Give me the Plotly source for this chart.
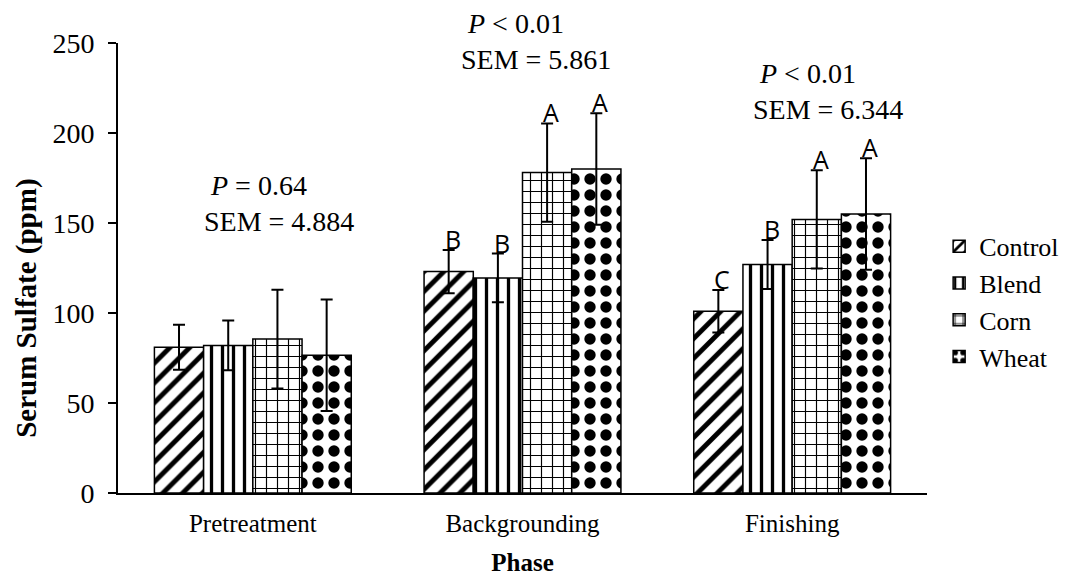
import plotly.graph_objects as go

phases = ["Pretreatment", "Backgrounding", "Finishing"]
series = ["Control", "Blend", "Corn", "Wheat"]
control = [81, 123, 101]
blend = [82, 119.5, 127]
corn = [85.5, 178, 152]
wheat = [76.5, 180, 155]
control_err = [12.5, 12, 11.8]
blend_err = [13.8, 13.5, 13.6]
corn_err = [27.4, 27.3, 27.3]
wheat_err = [31, 31, 31]
control_letters = ["", "B", "C"]
blend_letters = ["", "B", "B"]
corn_letters = ["", "A", "A"]
wheat_letters = ["", "A", "A"]
stats_text = [
    "\u00a0<i>P</i> = 0.64<br>SEM = 4.884",
    "\u00a0<i>P</i> < 0.01<br>SEM = 5.861",
    "\u00a0<i>P</i> < 0.01<br>SEM = 6.344",
]

values = [control, blend, corn, wheat]
errors = [control_err, blend_err, corn_err, wheat_err]
letters = [control_letters, blend_letters, corn_letters, wheat_letters]
patterns = [
    dict(shape="/", size=14, solidity=0.35, fgcolor="black", bgcolor="white", fgopacity=1),
    dict(shape="|", size=11, solidity=0.3, fgcolor="black", bgcolor="white", fgopacity=1),
    dict(shape="+", size=11, solidity=0.2, fgcolor="black", bgcolor="white", fgopacity=1),
    dict(shape=".", size=16, solidity=0.4, fgcolor="black", bgcolor="white", fgopacity=1),
]

serif = "Liberation Serif, Times New Roman, serif"
bargap = 0.27
xpos = list(range(len(phases)))

fig = go.Figure()
for s, v, e, p in zip(series, values, errors, patterns):
    fig.add_trace(go.Bar(
        name=s, x=xpos, y=v,
        marker=dict(color="white", pattern=p, line=dict(color="black", width=1.5)),
        error_y=dict(type="data", array=e, visible=True, color="black", thickness=2, width=6),
    ))

ann = []
bw = (1 - bargap) / len(series)
for j, (v, e, L) in enumerate(zip(values, errors, letters)):
    for i in xpos:
        if L[i]:
            ann.append(dict(
                x=i + (j - 1.5) * bw, y=v[i] + e[i], xref="x", yref="y",
                text=L[i], showarrow=False, yanchor="bottom", xanchor="center",
                font=dict(family="Open Sans, DejaVu Sans, sans-serif", size=25, color="black"),
                borderpad=0, yshift=-7, xshift=4,
            ))

stat_pos = [(0.105, 0.72), (0.423, 1.08), (0.784, 0.97)]
for t, (px, py) in zip(stats_text, stat_pos):
    ann.append(dict(
        x=px, y=py, xref="paper", yref="paper", text=t, showarrow=False,
        xanchor="left", yanchor="top", align="left",
        font=dict(family=serif, size=28, color="black"), borderpad=0,
    ))

# y-axis title placed as rotated text
ann.append(dict(
    x=-0.114, y=0.411, xref="paper", yref="paper",
    text="<b>Serum Sulfate (ppm)</b>", showarrow=False, textangle=-90,
    xanchor="center", yanchor="middle",
    font=dict(family=serif, size=29, color="black"),
))

fig.update_layout(
    width=1072, height=579,
    paper_bgcolor="white", plot_bgcolor="white",
    margin=dict(l=110, r=153, t=35, b=94),
    barmode="group", bargap=bargap, bargroupgap=0,
    font=dict(family=serif, color="black", size=25),
    annotations=ann,
    legend=dict(
        x=1.015, y=0.425, xanchor="left", yanchor="middle",
        font=dict(family=serif, size=26, color="black"),
        itemwidth=30, tracegroupgap=0,
    ),
    xaxis=dict(
        tickvals=xpos, ticktext=phases, range=[-0.5, 2.5],
        showline=True, linecolor="black", linewidth=2, ticks="",
        ticklabelstandoff=7,
        tickfont=dict(family=serif, size=25, color="black"),
        title=dict(text="<b>Phase</b>", font=dict(family=serif, size=25), standoff=17),
        showgrid=False, zeroline=False,
    ),
    yaxis=dict(
        range=[0, 250], tickvals=[0, 50, 100, 150, 200, 250],
        showline=True, linecolor="black", linewidth=2,
        ticks="outside", ticklen=8, tickwidth=2, tickcolor="black",
        ticklabelstandoff=8,
        tickfont=dict(family=serif, size=28, color="black"),
        showgrid=False, zeroline=False,
    ),
)

fig.write_html("out.html")
